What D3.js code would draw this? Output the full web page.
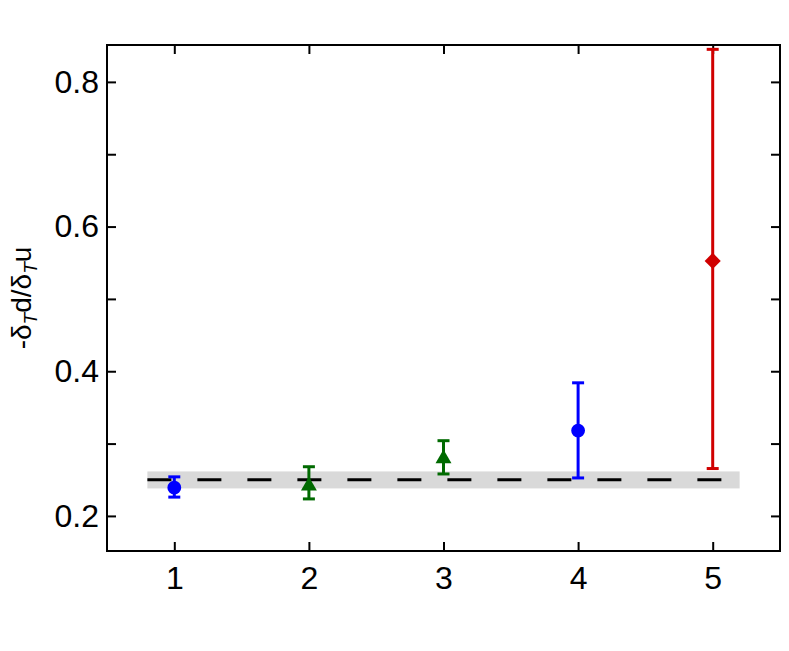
<!DOCTYPE html>
<html>
<head>
<meta charset="utf-8">
<script src="https://cdn.jsdelivr.net/npm/d3@7"></script>
<style>
  body { margin: 0; background: #fff; }
  text { font-family: "Liberation Sans", Arial, sans-serif; }
</style>
</head>
<body>
<svg class="chartSVG" width="789" height="651"></svg>
<script>
// data
const xCats = [1, 2, 3, 4, 5];
const yVals = [0.239, 0.2415, 0.279, 0.318, 0.5525];
const yUpper = [0.254, 0.268, 0.304, 0.384, 0.845];
const yLower = [0.226, 0.2235, 0.258, 0.2525, 0.2655];
const groups = ["lattice", "model", "model", "lattice", "pheno"];
const refValue = 0.25;
const refBand = [0.238, 0.2615];
const refRange = [0.8, 5.2];
const xTicks = [1, 2, 3, 4, 5];
const yTicks = [0.2, 0.3, 0.4, 0.5, 0.6, 0.7, 0.8];
const yTickLabels = ["0.2", "0.4", "0.6", "0.8"];

// look per group
const groupStyle = {
  lattice: { color: "#0000ff", shape: d3.symbolCircle, size: 150, rot: 0 },
  model:   { color: "#006a00", shape: d3.symbolTriangle, size: 110, rot: 0 },
  pheno:   { color: "#d00000", shape: d3.symbolSquare, size: 130, rot: 45 }
};

const margin = { top: 45, right: 9, bottom: 100, left: 107 };
const svgObj = d3.select(".chartSVG");
const width = 789 - margin.left - margin.right;
const height = 651 - margin.top - margin.bottom;

const g = svgObj.append("g")
  .attr("transform", `translate(${margin.left},${margin.top})`);

const xScale = d3.scaleLinear().domain([0.5, 5.5]).range([0, width]);
const yScale = d3.scaleLinear().domain([0.1515, 0.851]).range([height, 0]);

// grey band + dashed reference line
g.append("rect")
  .attr("x", xScale(refRange[0]))
  .attr("width", xScale(refRange[1]) - xScale(refRange[0]))
  .attr("y", yScale(refBand[1]))
  .attr("height", yScale(refBand[0]) - yScale(refBand[1]))
  .attr("fill", "#d9d9d9");

g.append("line")
  .attr("x1", xScale(refRange[0]))
  .attr("x2", xScale(refRange[1]))
  .attr("y1", yScale(refValue))
  .attr("y2", yScale(refValue))
  .attr("stroke", "#000")
  .attr("stroke-width", 3)
  .attr("stroke-dasharray", "24,26");

// axes: ticks point inward on all four sides
const tickLen = 9;
const axisStyle = sel => {
  sel.select(".domain").remove();
  sel.selectAll(".tick line").attr("stroke", "#000").attr("stroke-width", 2);
  sel.selectAll("text").attr("font-size", 32).attr("fill", "#000")
    .attr("font-family", "'Liberation Sans', Arial, sans-serif");
};

g.append("g")
  .attr("transform", `translate(0,${height})`)
  .call(d3.axisBottom(xScale).tickValues(xTicks).tickSize(-tickLen).tickPadding(15).tickFormat(d3.format("d")))
  .call(axisStyle);

g.append("g")
  .call(d3.axisTop(xScale).tickValues(xTicks).tickSize(-tickLen).tickFormat(""))
  .call(axisStyle);

g.append("g")
  .call(d3.axisLeft(yScale).tickValues(yTicks).tickSize(-tickLen).tickPadding(8)
    .tickFormat(d => yTickLabels.includes(d3.format(".1f")(d)) ? d3.format(".1f")(d) : ""))
  .call(axisStyle);

g.append("g")
  .attr("transform", `translate(${width},0)`)
  .call(d3.axisRight(yScale).tickValues(yTicks).tickSize(-tickLen).tickFormat(""))
  .call(axisStyle);

g.append("rect")
  .attr("width", width).attr("height", height)
  .attr("fill", "none").attr("stroke", "#000").attr("stroke-width", 2);

// error bars + markers
const pts = xCats.map((x, i) => ({ x, y: yVals[i], hi: yUpper[i], lo: yLower[i], grp: groups[i] }));
const capW = 6;

const ptG = g.selectAll(".pt").data(pts).enter().append("g").attr("class", "pt");

ptG.append("line")
  .attr("x1", d => xScale(d.x)).attr("x2", d => xScale(d.x))
  .attr("y1", d => yScale(d.hi)).attr("y2", d => yScale(d.lo))
  .attr("stroke", d => groupStyle[d.grp].color).attr("stroke-width", 3);

["hi", "lo"].forEach(k => {
  ptG.append("line")
    .attr("x1", d => xScale(d.x) - capW).attr("x2", d => xScale(d.x) + capW)
    .attr("y1", d => yScale(d[k])).attr("y2", d => yScale(d[k]))
    .attr("stroke", d => groupStyle[d.grp].color).attr("stroke-width", 3);
});

ptG.append("path")
  .attr("transform", d => `translate(${xScale(d.x)},${yScale(d.y)}) rotate(${groupStyle[d.grp].rot})`)
  .attr("d", d => d3.symbol().type(groupStyle[d.grp].shape).size(groupStyle[d.grp].size)())
  .attr("fill", d => groupStyle[d.grp].color);

// y label: -δ_T d / δ_T u
const yLab = svgObj.append("text")
  .attr("transform", `translate(31,${margin.top + height / 2}) rotate(-90)`)
  .attr("text-anchor", "middle")
  .attr("font-size", 28)
  .attr("fill", "#000");
yLab.append("tspan").text("-δ");
yLab.append("tspan").attr("font-style", "italic").attr("font-size", 19).attr("dy", 6).text("T");
yLab.append("tspan").attr("dy", -6).text("d/δ");
yLab.append("tspan").attr("font-style", "italic").attr("font-size", 19).attr("dy", 6).text("T");
yLab.append("tspan").attr("dy", -6).text("u");
</script>
</body>
</html>
